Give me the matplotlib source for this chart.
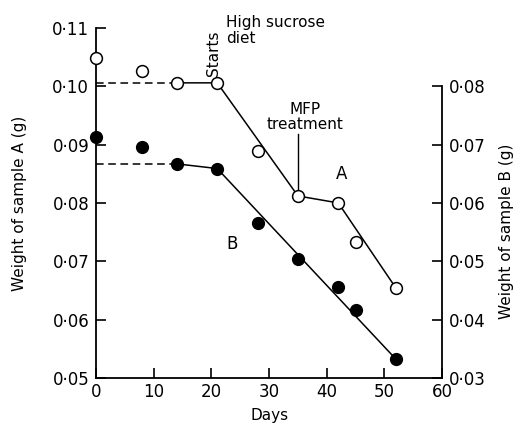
import matplotlib
matplotlib.use("Agg")
import matplotlib.pyplot as plt

# ---- data ----
days = [0, 8, 14, 21, 28, 35, 42, 45, 52]
weight_A = [0.1049, 0.1026, 0.1006, 0.1006, 0.0889, 0.0812, 0.0800, 0.0733, 0.0654]
weight_B = [0.0713, 0.0696, 0.0667, 0.0659, 0.0565, 0.0504, 0.0455, 0.0416, 0.0332]

lineA_dash_days = [0, 14]
lineA_dash_vals = [0.1006, 0.1006]
lineA_days = [14, 21, 35, 42, 52]
lineA_vals = [0.1006, 0.1006, 0.0812, 0.0800, 0.0654]

lineB_dash_days = [0, 14]
lineB_dash_vals = [0.0666, 0.0666]
lineB_days = [14, 21, 52]
lineB_vals = [0.0667, 0.0659, 0.0332]

x_ticks = [0, 10, 20, 30, 40, 50, 60]
x_labels = ["0", "10", "20", "30", "40", "50", "60"]
yA_ticks = [0.05, 0.06, 0.07, 0.08, 0.09, 0.10, 0.11]
yA_labels = ["0·05", "0·06", "0·07", "0·08", "0·09", "0·10", "0·11"]
yB_ticks = [0.03, 0.04, 0.05, 0.06, 0.07, 0.08]
yB_labels = ["0·03", "0·04", "0·05", "0·06", "0·07", "0·08"]

plt.rcParams['font.family'] = ['DejaVu Sans']

fig = plt.figure(figsize=(5.17, 4.25), dpi=100)
ax = fig.add_axes([0.186, 0.111, 0.669, 0.823])
ax2 = ax.twinx()

ax.set_xlim(0, 60)
ax.set_ylim(0.05, 0.11)
ax2.set_ylim(0.03, 0.09)

lw = 1.1
# Sample A (open circles, left axis)
ax.plot(lineA_dash_days, lineA_dash_vals, color='black', lw=lw, ls=(0, (5, 3)))
ax.plot(lineA_days, lineA_vals, color='black', lw=lw)
ax.plot(days, weight_A, ls='none', marker='o', ms=8.5, mfc='white', mec='black',
        mew=1.1, clip_on=False, zorder=5)

# Sample B (filled circles, right axis)
ax2.plot(lineB_dash_days, lineB_dash_vals, color='black', lw=lw, ls=(0, (5, 3)))
ax2.plot(lineB_days, lineB_vals, color='black', lw=lw)
ax2.plot(days, weight_B, ls='none', marker='o', ms=8.5, mfc='black', mec='black',
         clip_on=False, zorder=5)

# spines
for a in (ax, ax2):
    a.spines['top'].set_visible(False)
    for s in a.spines.values():
        s.set_linewidth(1.3)
ax.spines['right'].set_visible(False)
ax2.spines['left'].set_visible(False)
ax2.spines['bottom'].set_visible(False)
ax2.spines['right'].set_bounds(0.03, 0.08)

ax.set_xticks(x_ticks)
ax.set_xticklabels(x_labels)
ax.set_yticks(yA_ticks)
ax.set_yticklabels(yA_labels)
ax2.set_yticks(yB_ticks)
ax2.set_yticklabels(yB_labels)

ax.tick_params(axis='both', direction='in', length=7, width=1.2, labelsize=12, pad=5)
ax.tick_params(axis='x', pad=4)
ax2.tick_params(axis='y', direction='in', length=7, width=1.2, labelsize=12, pad=5)

ax.set_xlabel("Days", fontsize=11, labelpad=5)
ax.set_ylabel("Weight of sample A (g)", fontsize=11)
ax.yaxis.set_label_coords(-0.20, 0.5)
ax2.set_ylabel("Weight of sample B (g)", fontsize=11)
ax2.yaxis.set_label_coords(1.165, 0.42)

# annotations
ax.text(22.5, 0.1096, "High sucrose\ndiet", fontsize=11, ha='left', va='center',
        linespacing=1.1)
ax.text(20.3, 0.1018, "Starts", fontsize=11, rotation=90, ha='center', va='bottom')
ax.text(36.3, 0.0922, "MFP\ntreatment", fontsize=11, ha='center', va='bottom',
        linespacing=0.95)
ax.plot([35.0, 35.0], [0.0821, 0.0919], color='black', lw=1.0)
ax.text(42.6, 0.0850, "A", fontsize=12, ha='center', va='center')
ax.text(23.5, 0.0730, "B", fontsize=12, ha='center', va='center')

fig.savefig("out.png", dpi=100)
